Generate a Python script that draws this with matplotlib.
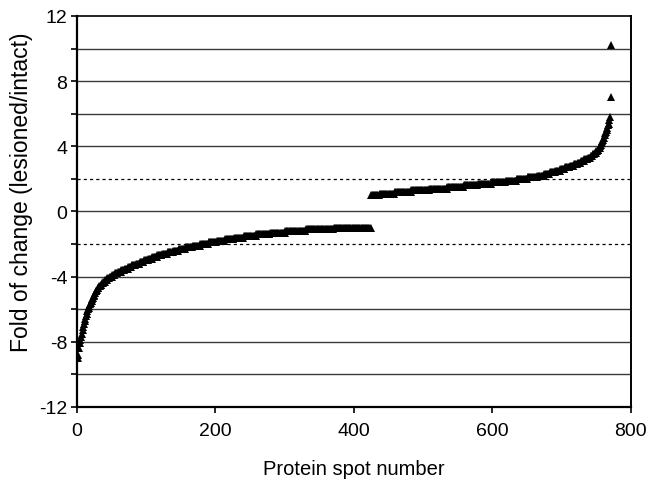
import numpy as np
import matplotlib.pyplot as plt

plt.rcParams['font.family'] = ['Liberation Sans', 'DejaVu Sans']
plt.rcParams['axes.unicode_minus'] = False

# Steep low end: one value per spot (spots 1-40)
low_tail = [-9.0, -8.8, -8.4, -8.1, -7.9, -7.7, -7.5, -7.3, -7.1, -6.9,
            -6.7, -6.6, -6.4, -6.3, -6.1, -6.0, -5.9, -5.8, -5.7, -5.6,
            -5.5, -5.4, -5.3, -5.2, -5.1, -5.0, -4.9, -4.9, -4.8, -4.7,
            -4.7, -4.6, -4.6, -4.5, -4.5, -4.4, -4.4, -4.3, -4.3, -4.3]

# Down-regulated plateau: fold level and how many spots sit on it
neg_levels = [-4.2, -4.1, -4.0, -3.9, -3.8, -3.7, -3.6, -3.5, -3.4, -3.3,
              -3.2, -3.1, -3.0, -2.9, -2.8, -2.7, -2.6, -2.5, -2.4, -2.3,
              -2.2, -2.1, -2.0, -1.9, -1.8, -1.7, -1.6, -1.5, -1.4, -1.3,
              -1.2, -1.1, -1.0]
neg_counts = [3, 3, 4, 4, 4, 5, 5, 5, 5, 6,
              6, 6, 6, 6, 7, 7, 8, 8, 8, 10,
              10, 11, 12, 12, 12, 13, 14, 18, 20, 22,
              30, 40, 54]

# Up-regulated plateau
pos_levels = [1.0, 1.1, 1.2, 1.3, 1.4, 1.5, 1.6, 1.7, 1.8, 1.9,
              2.0, 2.1, 2.2, 2.3, 2.4, 2.5, 2.6, 2.7, 2.8, 2.9,
              3.0, 3.1, 3.2, 3.3, 3.4, 3.5, 3.6, 3.7, 3.8, 3.9]
pos_counts = [12, 22, 24, 26, 26, 24, 20, 20, 20, 16,
              16, 14, 10, 8, 8, 7, 7, 7, 6, 5,
              5, 5, 5, 4, 3, 3, 2, 2, 2, 2]

# Steep high end: one value per spot
high_tail = [4.0, 4.1, 4.2, 4.3, 4.4, 4.5, 4.7, 4.8, 4.9, 5.0,
             5.1, 5.3, 5.4, 5.6, 5.8, 7.0, 10.2]

fold = np.concatenate([low_tail,
                       np.repeat(neg_levels, neg_counts),
                       np.repeat(pos_levels, pos_counts),
                       high_tail])
spot = np.arange(1, len(fold) + 1)

fig = plt.figure(figsize=(6.5, 4.81), dpi=100)
ax = fig.add_axes([0.1185, 0.1518, 0.852, 0.8129])

for y in [-10, -8, -6, -4, 0, 4, 6, 8, 10]:
    ax.axhline(y, color='#3a3a3a', lw=1.0, zorder=1)
for y in [-2, 2]:
    ax.axhline(y, color='black', lw=0.9, ls=(0, (2.5, 2.5)), zorder=1)

ax.plot(spot, fold, ls='none', marker='^', ms=5.4, color='black',
        markeredgewidth=0, zorder=3)

ax.set_xlim(0, 800)
ax.set_ylim(-12, 12)
ax.set_xticks([0, 200, 400, 600, 800])
ax.set_yticks([-12, -8, -4, 0, 4, 8, 12])
ax.set_yticks(np.arange(-12, 13, 2), minor=True)
ax.tick_params(axis='both', which='both', direction='out', length=4,
               width=1.2, labelsize=14, color='black')
ax.tick_params(axis='x', pad=7)
ax.tick_params(axis='y', pad=3)

for s in ax.spines.values():
    s.set_linewidth(1.6)
    s.set_color('black')
ax.spines['top'].set_linewidth(1.2)
ax.spines['right'].set_linewidth(1.4)

ax.set_xlabel('Protein spot number', fontsize=14.5, labelpad=14)
ax.set_ylabel('Fold of change (lesioned/intact)', fontsize=16.5)
ax.yaxis.set_label_coords(-0.08, 0.552)

fig.savefig('out.png', dpi=100)
